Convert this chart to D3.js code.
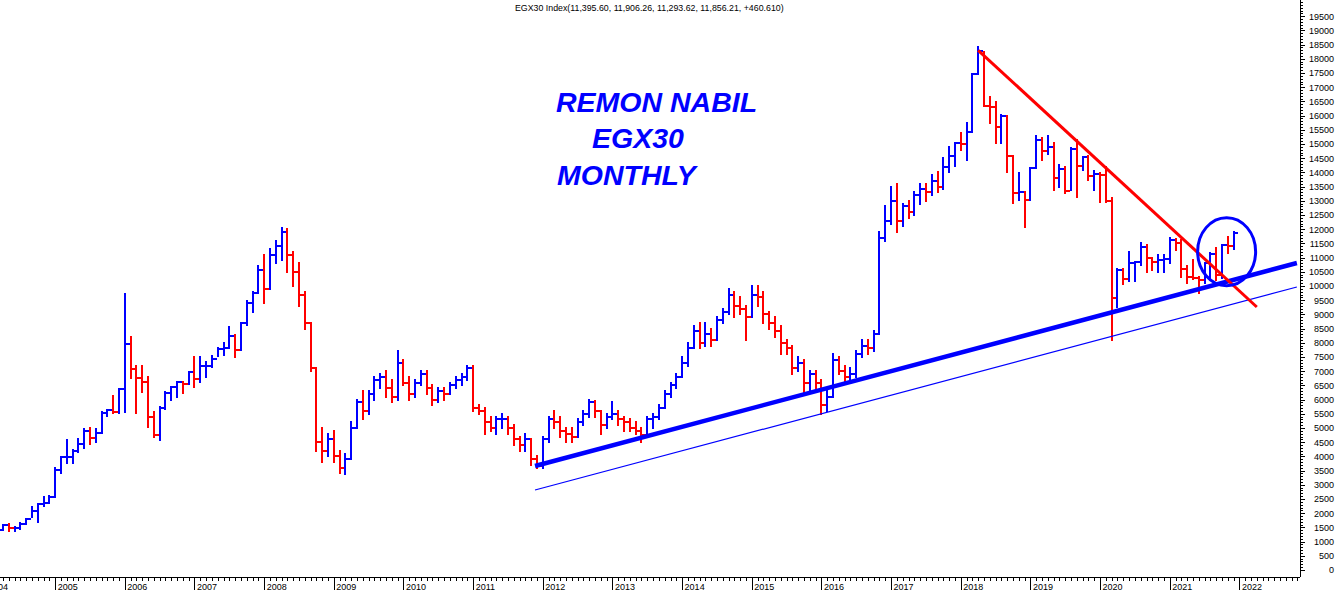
<!DOCTYPE html>
<html>
<head>
<meta charset="utf-8">
<script src="https://cdn.jsdelivr.net/npm/d3@7"></script>
<style>
  body { margin: 0; background: #fff; }
  svg { display: block; }
  text { font-family: "Liberation Sans", Arial, sans-serif; }
</style>
</head>
<body>
<svg width="1336" height="592"></svg>
<script>
// monthly EGX30 bars, first bar = March 2004, one value per month
var firstMonth = new Date(2004, 2, 1);

var highs = [
  1430, 1574, 1620, 1525, 1640, 1800, 2207, 2335, 2560, 2600,
  3581, 3990, 4577, 4225, 4600, 4950, 5000, 4950, 5574, 5650, 6127, 6362,
  9718, 8215, 7183, 7183, 6806, 5574, 5750, 6257, 6454, 6630, 6630, 6982,
  7488, 7488, 7335, 7535, 7806, 8003, 8567, 8275, 8708, 9482, 9799, 10700,
  11100, 11300, 11600, 12050, 12000, 11200, 10800, 9800, 8700, 7100, 5000, 4800,
  4900, 4200, 4100, 5200, 6000, 6300, 6300, 6800, 6900, 7000, 6700, 7700,
  7400, 6800, 6700, 7000, 7000, 6500, 6400, 6400, 6600, 6800, 6900, 7200,
  7200, 5800, 5700, 5400, 5400, 5500, 5400, 5100, 4700, 4800, 4600, 4000,
  4700, 5400, 5600, 5400, 5000, 5000, 5300, 5600, 6000, 5950, 5600, 5500,
  5900, 5600, 5400, 5300, 5200, 5000, 5400, 5500, 5800, 6300, 6600, 6900,
  7500, 8000, 8600, 8700, 8700, 8500, 8900, 9200, 9900, 9800, 9600, 9300,
  10000, 10000, 9800, 9100, 8900, 8600, 8100, 7900, 7500, 7400, 7000, 7000,
  6700, 6400, 7600, 7500, 7200, 7100, 7700, 8100, 8100, 8400, 11900, 12800,
  13500, 13600, 12900, 13000, 13300, 13600, 13600, 13900, 14000, 14500, 14900, 15024,
  15400, 15729, 17454, 18405, 18251, 16667, 16490, 16021, 15986, 14588, 13990, 13321,
  14143, 15282, 15200, 15282, 15024, 14260, 14179, 14848, 15141, 14553, 14577, 14060,
  13968, 14202, 13100, 10588, 10588, 11208, 10856, 11502, 11444, 10975, 11091, 11091,
  11678, 11644, 11620, 10704, 10915, 10328, 10821, 11150, 11326, 11444, 11714, 11906.26
];

var lows = [
  1380, 1400, 1384, 1384, 1430, 1620, 1880, 1700, 2265, 2370,
  2581, 3427, 3756, 3756, 4150, 4300, 4450, 4500, 4813, 5423, 5517, 5517,
  5574, 6750, 5517, 6278, 5025, 4673, 4577, 5658, 5986, 6102, 6243, 6549,
  6432, 6630, 6806, 7137, 7535, 7570, 7806, 7510, 7746, 8627, 9095, 9740,
  9390, 9900, 10800, 10900, 10500, 10000, 9300, 8500, 7000, 4200, 3800, 4000,
  3800, 3400, 3380, 3900, 5000, 5300, 5500, 6000, 6400, 6100, 5900, 6000,
  6500, 6000, 6100, 6500, 6200, 5800, 5900, 6000, 6200, 6400, 6500, 6700,
  5600, 5500, 4800, 4900, 4800, 5000, 4800, 4400, 4200, 4200, 3700, 3600,
  3600, 4500, 5000, 4700, 4500, 4500, 4700, 5100, 5400, 5400, 4800, 5000,
  5300, 5100, 4900, 4900, 4800, 4500, 4700, 5000, 5300, 5700, 6100, 6400,
  6800, 7200, 7800, 7800, 7900, 7900, 8100, 8700, 9000, 8900, 9000, 8100,
  8900, 9300, 8700, 8500, 8200, 7600, 7600, 6900, 7000, 6200, 6300, 6300,
  5500, 5600, 6100, 6900, 6600, 6700, 6800, 7500, 7600, 7700, 8300, 11600,
  12200, 11900, 12100, 12400, 12500, 12900, 13000, 13200, 13300, 13400, 14000, 14236,
  14800, 14437, 15412, 17454, 16338, 15729, 15046, 15046, 14025, 12912, 13028, 12067,
  13028, 14143, 14437, 14648, 13380, 13497, 13264, 13380, 13145, 14084, 13732, 13380,
  12968, 12968, 8099, 9272, 10070, 10188, 10188, 10739, 10504, 10563, 10504, 10504,
  10821, 11268, 10328, 10094, 10236, 9764, 10117, 10211, 10211, 10270, 11150, 11293.62
];

var closes = [
  1408, 1574, 1468, 1470, 1620, 1796, 2080, 2335, 2370, 2581,
  3521, 3968, 3968, 4200, 4450, 4900, 4650, 4813, 5517, 5634, 5563, 6362,
  7947, 7077, 6771, 6630, 5377, 4754, 5715, 6243, 6454, 6630, 6549, 6982,
  6725, 7183, 7183, 7418, 7782, 7806, 8239, 7746, 8708, 9412, 9764, 10550,
  9900, 11100, 11400, 11900, 11100, 10500, 9700, 8700, 7100, 4500, 4200, 4600,
  4000, 3600, 3900, 5000, 5900, 5600, 6200, 6700, 6800, 6400, 6100, 7300,
  6600, 6200, 6600, 6900, 6400, 6000, 6300, 6200, 6500, 6700, 6800, 7100,
  5700, 5600, 5200, 5000, 5300, 5300, 5000, 4600, 4400, 4600, 3900, 3650,
  4600, 5300, 5200, 4900, 4800, 4700, 5200, 5500, 5900, 5600, 5100, 5400,
  5500, 5300, 5200, 5000, 4900, 4750, 5300, 5400, 5700, 6200, 6500, 6800,
  7300, 7800, 8400, 8000, 8300, 8100, 8800, 9100, 9700, 9300, 9200, 8900,
  9700, 9600, 9000, 8700, 8400, 8000, 7800, 7100, 7300, 6600, 6900, 6600,
  5800, 6100, 7400, 7000, 6800, 6900, 7600, 7900, 7800, 8300, 11700, 12300,
  13000, 12300, 12800, 12600, 13200, 13400, 13300, 13700, 13500, 14200, 14588, 15024,
  15000, 15412, 17454, 18286, 16338, 16300, 15588, 15986, 14588, 13264, 13321, 13028,
  14143, 15141, 14764, 14905, 13792, 14108, 13356, 14813, 14225, 14553, 13884, 13944,
  13900, 13004, 9588, 10563, 10236, 10799, 10850, 11384, 10975, 10850, 10915, 10950,
  11620, 11502, 10588, 10305, 10290, 10211, 10799, 11127, 10400, 11444, 11395.6, 11856.21
];

var yearLabels = d3.range(2004, 2023).map(String);
var yLabelValues = d3.range(0, 20000, 500);

// trend lines drawn on the chart: [month number from Jan 2004, index value]
var redTrend = [[171, 18300], [219, 9260]];
var blueTrend = [[94.66, 3662], [225.9, 10810]];
var blueChannel = [[94.66, 2817], [225.9, 9965]];
var circleMark = [213.8, 11208];

var titleText = "EGX30 Index(11,395.60, 11,906.26, 11,293.62, 11,856.21, +460.610)";
var notes = ["REMON NABIL", "EGX30", "MONTHLY"];

var svg = d3.select("svg");
var base = new Date(2004, 0, 1);

var x = d3.scaleLinear().domain([0, 216]).range([-14.5, 1239.4]);
var y = d3.scaleLinear().domain([0, 20000]).range([570, 2]);
var step = x(1) - x(0);

var bars = closes.map(function(c, i) {
  var dt = d3.timeMonth.offset(firstMonth, i);
  return {
    m: d3.timeMonth.count(base, dt),
    h: highs[i], l: lows[i], c: c,
    prev: i ? closes[i - 1] : c - 1
  };
});

var blue = "#0000ff", red = "#ff0000";

// x axis
var axisY = 577;
svg.append("line")
    .attr("x1", 0).attr("x2", 1300)
    .attr("y1", axisY + 0.5).attr("y2", axisY + 0.5)
    .attr("stroke", "#000");

var monthAxis = svg.append("g")
    .attr("transform", "translate(0," + axisY + ")")
    .call(d3.axisBottom(x).tickValues(d3.range(0, 227)).tickSize(4).tickFormat(""));
monthAxis.select(".domain").remove();

var yearAxis = svg.append("g")
    .attr("transform", "translate(0," + axisY + ")")
    .call(d3.axisBottom(x).tickValues(d3.range(0, 217, 12)).tickSize(13)
      .tickFormat(function(d, i) { return yearLabels[i]; }));
yearAxis.select(".domain").remove();
yearAxis.selectAll("text")
    .attr("y", 13).attr("dy", 0).attr("x", 2)
    .attr("text-anchor", "start")
    .style("font-family", '"Liberation Sans", Arial, sans-serif')
    .style("font-size", "9px").attr("fill", "#000");

// y axis on the right
svg.append("line")
    .attr("x1", 1300.5).attr("x2", 1300.5)
    .attr("y1", 0).attr("y2", axisY)
    .attr("stroke", "#000");

var minorY = svg.append("g")
    .attr("transform", "translate(1300,0)")
    .call(d3.axisRight(y).tickValues(d3.range(0, 20001, 100)).tickSize(3).tickFormat(""));
minorY.select(".domain").remove();

var majorY = svg.append("g")
    .attr("transform", "translate(1300,0)")
    .call(d3.axisRight(y).tickValues(yLabelValues).tickSize(5).tickFormat(d3.format("d")));
majorY.select(".domain").remove();
majorY.selectAll("text")
    .attr("x", 34).attr("text-anchor", "end")
    .style("font-family", '"Liberation Sans", Arial, sans-serif')
    .style("font-size", "9px").attr("fill", "#000");

svg.selectAll(".tick line").attr("shape-rendering", "crispEdges");

// bars: high-low line plus close tick
var g = svg.append("g").attr("shape-rendering", "crispEdges");
bars.forEach(function(d) {
  var col = d.c >= d.prev ? blue : red;
  var bx = x(d.m);
  g.append("line")
      .attr("x1", bx).attr("x2", bx)
      .attr("y1", y(d.h) - 1).attr("y2", y(d.l) + 1)
      .attr("stroke", col).attr("stroke-width", 2);
  g.append("line")
      .attr("x1", bx).attr("x2", bx + step - 1)
      .attr("y1", y(d.c)).attr("y2", y(d.c))
      .attr("stroke", col).attr("stroke-width", 2);
});

// trend lines
var line = d3.line()
    .x(function(d) { return x(d[0]); })
    .y(function(d) { return y(d[1]); });

svg.append("path").datum(blueChannel).attr("d", line)
    .attr("fill", "none").attr("stroke", blue).attr("stroke-width", 1.2);
svg.append("path").datum(blueTrend).attr("d", line)
    .attr("fill", "none").attr("stroke", blue).attr("stroke-width", 4.5);
svg.append("path").datum(redTrend).attr("d", line)
    .attr("fill", "none").attr("stroke", red).attr("stroke-width", 3);

svg.append("ellipse")
    .attr("cx", x(circleMark[0])).attr("cy", y(circleMark[1]))
    .attr("rx", 29).attr("ry", 34)
    .attr("fill", "none").attr("stroke", blue).attr("stroke-width", 3);

// title
svg.append("text")
    .attr("x", 515).attr("y", 11)
    .style("font-size", "8.8px").attr("fill", "#000")
    .text(titleText);

// annotation
var notePos = [[556, 112], [592, 148], [557, 185]];
svg.selectAll(".note")
  .data(notes)
  .enter().append("text")
    .attr("class", "note")
    .attr("x", function(d, i) { return notePos[i][0]; })
    .attr("y", function(d, i) { return notePos[i][1]; })
    .attr("fill", blue)
    .style("font-size", "28.5px")
    .style("font-weight", "bold")
    .style("font-style", "italic")
    .text(function(d) { return d; });
</script>
</body>
</html>
